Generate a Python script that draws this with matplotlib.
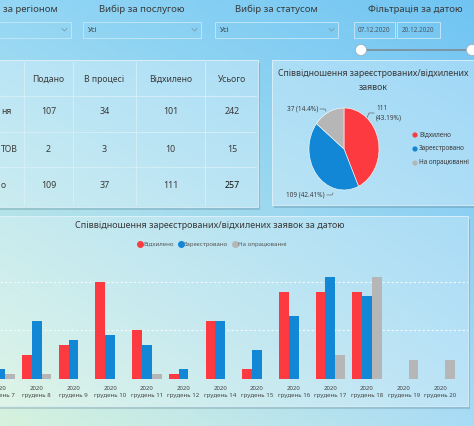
import numpy as np
import matplotlib
matplotlib.use("Agg")
import matplotlib.pyplot as plt
from matplotlib.patches import Rectangle, Circle
from matplotlib.lines import Line2D

plt.rcParams['font.family'] = ['Noto Sans', 'DejaVu Sans']

W, H = 474, 426

# bar chart data
days = ["7", "8", "9", "10", "11", "12", "14", "15", "16", "17", "18", "19", "20"]
rejected = [0, 5, 7, 20, 10, 1, 12, 2, 18, 18, 18, 0, 0]
registered = [2, 12, 8, 9, 7, 2, 12, 6, 13, 21, 17, 0, 0]
in_progress = [1, 1, 0, 0, 1, 0, 0, 0, 0, 5, 21, 4, 4]

# pie data
pie_labels = ["Відхилено", "Зареєстровано", "На опрацюванні"]
pie_values = [111, 109, 37]

# table data
columns = ["Подано", "В процесі", "Відхилено", "Усього"]
row_labels = ["ня", "ТОВ", "о"]
table_rows = [[107, 34, 101, 242],
              [2, 3, 10, 15],
              [109, 37, 111, 257]]

RED = "#fd3a40"
BLUE = "#1187d6"
GRAY = "#b6b6b6"
TXT = "#3a3a3a"


def px(x, y):
    return x / W, 1 - y / H


# corner colours of the page background
TL = np.array([0.58, 0.84, 0.96])
TR = np.array([0.44, 0.77, 0.95])
BL = np.array([0.84, 0.95, 0.87])
BR = np.array([0.66, 0.86, 0.96])


def gradient(x0, x1, y0, y1, light=0.0):
    u = np.linspace(x0 / W, x1 / W, 120)[None, :, None]
    v = np.linspace(y0 / H, y1 / H, 120)[:, None, None]
    g = (1 - v) * ((1 - u) * TL + u * TR) + v * ((1 - u) * BL + u * BR)
    return np.clip(g * (1 - light) + light, 0, 1)


fig = plt.figure(figsize=(W / 100, H / 100), dpi=100)

bg = fig.add_axes([0, 0, 1, 1])
bg.set_xlim(0, W)
bg.set_ylim(H, 0)
bg.axis("off")
bg.imshow(gradient(0, W, 0, H), extent=(0, W, H, 0), aspect="auto", zorder=0)


def panel(x0, y0, x1, y1, light=0.3):
    bg.add_patch(Rectangle((x0 + 2, y0 + 3), x1 - x0, y1 - y0, fc="#4d7080",
                           alpha=0.25, lw=0, zorder=1))
    bg.imshow(gradient(x0, x1, y0, y1, light), extent=(x0, x1, y1, y0),
              aspect="auto", zorder=2)
    bg.add_patch(Rectangle((x0, y0), x1 - x0, y1 - y0, fc="none",
                           ec="#dff2fb", lw=0.6, zorder=2))


# filters strip
fs = 6.9
bg.text(3, 9, "за регіоном", fontsize=fs, color=TXT, va="center")
bg.text(142, 9, "Вибір за послугою", fontsize=fs, color=TXT, va="center", ha="center")
bg.text(276, 9, "Вибір за статусом", fontsize=fs, color=TXT, va="center", ha="center")
bg.text(415, 9, "Фільтрація за датою", fontsize=fs, color=TXT, va="center", ha="center")
for x0, x1, txt in [(-5, 71, ""), (83, 201, "Усі"), (215, 338, "Усі")]:
    bg.add_patch(Rectangle((x0, 22), x1 - x0, 16, fc="none", ec="#bfe4f8", lw=0.7, zorder=2))
    bg.text(x0 + 5, 30, txt, fontsize=5, color=TXT, va="center")
    bg.plot([x1 - 9, x1 - 6.5, x1 - 4], [28.5, 31, 28.5], color="#7a9aaa", lw=0.6, zorder=3)
for x0, x1, txt in [(354, 395, "07.12.2020"), (397, 440, "20.12.2020")]:
    bg.add_patch(Rectangle((x0, 22), x1 - x0, 16, fc="none", ec="#bfe4f8", lw=0.7, zorder=2))
    bg.text((x0 + x1) / 2, 30, txt, fontsize=4.6, color="#4a5a66", va="center", ha="center")
bg.plot([361, 472], [50, 50], color="#7c8c96", lw=1.2, zorder=3)
for cx in [361, 472]:
    bg.add_patch(Circle((cx, 50), 5.5, fc="white", ec="#9aaab4", lw=0.5, zorder=4))

# table panel
panel(-5, 60, 258, 207)
for x in [24, 73, 136, 205]:
    bg.plot([x, x], [62, 205], color="#d8eff9", lw=0.6, zorder=3)
for y in [96, 132, 167]:
    bg.plot([0, 256], [y, y], color="#d8eff9", lw=0.6, zorder=3)
col_x = [48.5, 104.5, 170.5, 232]
for cx, name in zip(col_x, columns):
    bg.text(cx, 79, name, fontsize=6.2, color=TXT, ha="center", va="center", zorder=4)
row_y = [112, 149, 185]
for ry, lab, vals in zip(row_y, row_labels, table_rows):
    bg.text(1, ry, lab, fontsize=6.2, color=TXT, va="center", zorder=4)
    for i, (cx, val) in enumerate(zip(col_x, vals)):
        bold = (lab == "о" and i == 3)
        bg.text(cx, ry, str(val), fontsize=6.4, color="#111" if bold else TXT,
                ha="center", va="center", fontweight="bold" if bold else "normal", zorder=4)

# pie panel
panel(272, 60, 476, 205)
bg.text(373, 73, "Співвідношення зареєстрованих/відхилених", fontsize=6.3,
        color=TXT, ha="center", va="center", zorder=4)
bg.text(373, 88, "заявок", fontsize=6.3, color=TXT, ha="center", va="center", zorder=4)

x0, y0 = px(309, 190)
x1, y1 = px(379, 108)
pax = fig.add_axes([x0, y0, x1 - x0, y1 - y0])
pax.pie(pie_values, colors=[RED, BLUE, GRAY], startangle=90, counterclock=False,
        wedgeprops=dict(edgecolor="white", linewidth=0.4))
pax.set_aspect("auto")
pax.set_xlim(-1, 1)
pax.set_ylim(-1, 1)
pax.axis("off")

total = sum(pie_values)
pct = [v * 100 / total for v in pie_values]
bg.text(376, 109, f"{pie_values[0]}", fontsize=4.6, color=TXT, va="center", zorder=4)
bg.text(376, 118, f"({pct[0]:.2f}%)", fontsize=4.6, color=TXT, va="center", zorder=4)
bg.plot([367, 369, 374], [118, 113, 113], color="#666", lw=0.5, zorder=4)
bg.text(318, 109, f"{pie_values[2]} ({pct[2]:.1f}%)", fontsize=4.6, color=TXT,
        ha="right", va="center", zorder=4)
bg.plot([320, 325, 326], [109, 109, 111], color="#666", lw=0.5, zorder=4)
bg.text(325, 195, f"{pie_values[1]} ({pct[1]:.2f}%)", fontsize=4.6, color=TXT,
        ha="right", va="center", zorder=4)
bg.plot([327, 332, 333], [195, 195, 193], color="#666", lw=0.5, zorder=4)
for i, (lab, c) in enumerate(zip(pie_labels, [RED, BLUE, GRAY])):
    yy = 135 + 14 * i
    bg.add_patch(Circle((415, yy), 2.6, fc=c, ec="none", zorder=4))
    bg.text(419, yy, lab, fontsize=4.6, color=TXT, va="center", zorder=4)

# bar panel
panel(-5, 216, 468, 406, light=0.25)
bg.text(210, 226, "Співвідношення зареєстрованих/відхилених заявок за датою",
        fontsize=6.5, color=TXT, ha="center", va="center", zorder=4)

x0, y0 = px(0, 379)
x1, y1 = px(468, 262)
ax = fig.add_axes([x0, y0, x1 - x0, y1 - y0])
ax.patch.set_alpha(0)
idx = np.arange(len(days))
bw = 0.267
ax.bar(idx - bw, rejected, bw, color=RED, zorder=3)
ax.bar(idx, registered, bw, color=BLUE, zorder=3)
ax.bar(idx + bw, in_progress, bw, color=GRAY, zorder=3)
ax.set_xlim(0.135, 0.135 + 468 / 37.1)
ax.set_ylim(0, 24.1)
for g in [0, 10, 20]:
    ax.axhline(g, color="#f2fafd", lw=0.8, ls=(0, (2, 2)), zorder=1)
ax.set_yticks([])
ax.set_xticks(idx)
ax.set_xticklabels([f"2020\nгрудень {d}" for d in days], fontsize=4.4,
                   color="#444", linespacing=1.6)
ax.tick_params(axis="x", length=0, pad=5)
for s in ax.spines.values():
    s.set_visible(False)

handles = [Line2D([], [], marker="o", ls="", color=c, markersize=4) for c in [RED, BLUE, GRAY]]
leg = ax.legend(handles, pie_labels, loc="center", ncol=3, frameon=False,
                bbox_to_anchor=px(212, 244), bbox_transform=fig.transFigure,
                fontsize=4.4, handletextpad=0.05, columnspacing=0.6, handlelength=1.0)
for t in leg.get_texts():
    t.set_color("#555")

fig.savefig("out.png", dpi=100)
